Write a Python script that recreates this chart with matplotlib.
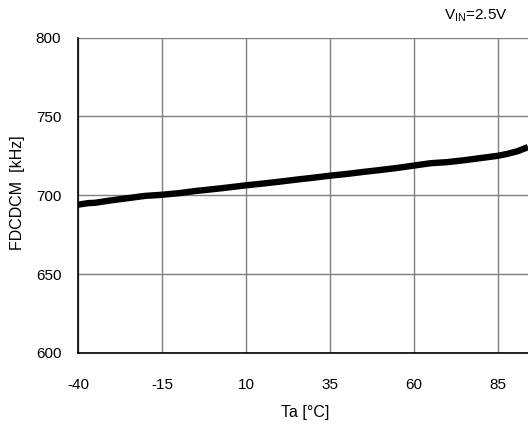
import matplotlib
matplotlib.use("Agg")
import matplotlib.pyplot as plt

temps = [-40, -37, -35, -30, -25, -20, -15, -10, -5, 0, 5, 10, 15, 20, 25, 30, 35,
         40, 45, 50, 55, 60, 65, 70, 75, 80, 85, 88, 91, 94]
freq = [694.0, 695.0, 695.2, 696.8, 698.2, 699.6, 700.3, 701.3, 702.7, 703.8, 705.0,
        706.3, 707.4, 708.6, 709.9, 711.1, 712.4, 713.5, 714.8, 716.0, 717.3, 718.8,
        720.3, 721.0, 722.2, 723.6, 725.0, 726.3, 728.0, 730.5]
xticks = [-40, -15, 10, 35, 60, 85]
yticks = [600, 650, 700, 750, 800]

plt.rcParams['font.family'] = ['Liberation Sans', 'DejaVu Sans']
plt.rcParams['axes.unicode_minus'] = False
fig = plt.figure(figsize=(5.28, 4.25), dpi=100)
W, H = 528, 425
ax = fig.add_axes([78 / W, 1 - 353 / H, (528 - 78) / W, (353 - 37.5) / H])
ax.plot(temps, freq, color='black', lw=4.6, solid_capstyle='butt', zorder=3)
ax.set_xlim(-40, 94)
ax.set_ylim(600, 800)
ax.set_xticks(xticks)
ax.set_yticks(yticks)
ax.tick_params(axis='x', length=0, pad=18, labelsize=11)
ax.tick_params(axis='y', length=0, pad=12, labelsize=11)
ax.grid(True, color='#7f7f7f', lw=1.0)
for s in ['top', 'right']:
    ax.spines[s].set_visible(False)
for s in ['left', 'bottom']:
    ax.spines[s].set_color('black')
    ax.spines[s].set_linewidth(1.2)
    ax.spines[s].set_zorder(4)
fig.text(305 / W, 1 - 413 / H, 'Ta [°C]', ha='center', va='center', fontsize=11.5)
fig.text(18 / W, 1 - 193 / H, 'FDCDCM  [kHz]', ha='center', va='center', rotation=90, fontsize=11.5)
fig.text(508 / W, 1 - 16 / H, r'V$_{\mathregular{IN}}$=2.5V', ha='right', va='center', fontsize=11)
fig.savefig('out.png', dpi=100)
